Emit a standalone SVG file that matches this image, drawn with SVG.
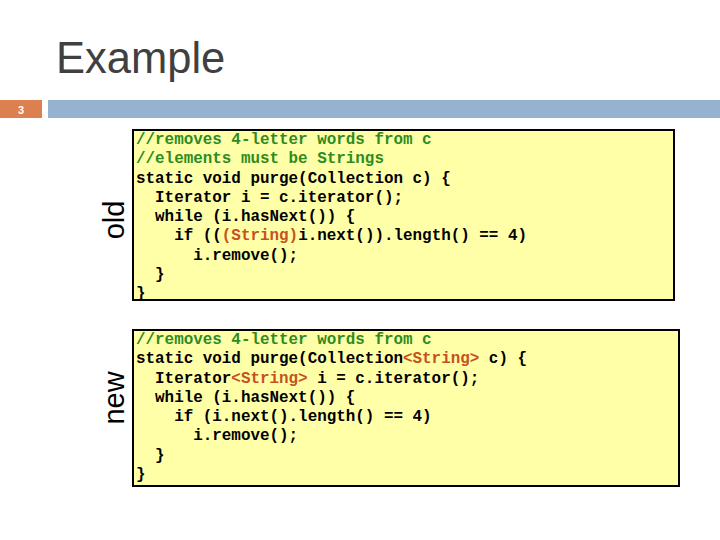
<svg xmlns="http://www.w3.org/2000/svg" width="720" height="540" viewBox="0 0 720 540">
<style>
.code{font-family:"Liberation Mono",monospace;font-weight:bold;font-size:15.9px;fill:#000;white-space:pre}
.cm{fill:#2e8b1f}.ty{fill:#c8501e}
.box{fill:#ffffa8;stroke:#000;stroke-width:2}
.lab{font-family:"Liberation Sans",Arial,sans-serif;font-size:29px;fill:#000}
</style>
<rect width="720" height="540" fill="#fff"/>
<text x="56" y="73" font-family="Liberation Sans,Arial,sans-serif" font-size="43.5" fill="#404040">Example</text>
<rect x="0" y="100" width="42" height="18" fill="#dd8050"/>
<text x="21" y="114" text-anchor="middle" font-family="Liberation Sans,Arial,sans-serif" font-size="11" font-weight="bold" fill="#fff">3</text>
<rect x="48" y="100" width="672" height="18" fill="#95b3d0"/>
<g id="old">
<rect class="box" x="133" y="130" width="541" height="170"/>
<text class="lab" transform="translate(124,220) rotate(-90)" text-anchor="middle">old</text>
<text class="code" x="136" y="144"><tspan class="cm">//removes 4-letter words from c</tspan></text>
<text class="code" x="136" y="163"><tspan class="cm">//elements must be Strings</tspan></text>
<text class="code" x="136" y="183">static void purge(Collection c) {</text>
<text class="code" x="136" y="202">  Iterator i = c.iterator();</text>
<text class="code" x="136" y="221">  while (i.hasNext()) {</text>
<text class="code" x="136" y="240">    if ((<tspan class="ty">(String)</tspan>i.next()).length() == 4)</text>
<text class="code" x="136" y="260">      i.remove();</text>
<text class="code" x="136" y="279">  }</text>
<text class="code" x="136" y="298">}</text>
</g>
<g id="new">
<rect class="box" x="133" y="330" width="546" height="156"/>
<text class="lab" transform="translate(124,398) rotate(-90)" text-anchor="middle">new</text>
<text class="code" x="136" y="344"><tspan class="cm">//removes 4-letter words from c</tspan></text>
<text class="code" x="136" y="363">static void purge(Collection<tspan class="ty">&lt;String&gt;</tspan> c) {</text>
<text class="code" x="136" y="383">  Iterator<tspan class="ty">&lt;String&gt;</tspan> i = c.iterator();</text>
<text class="code" x="136" y="402">  while (i.hasNext()) {</text>
<text class="code" x="136" y="421">    if (i.next().length() == 4)</text>
<text class="code" x="136" y="440">      i.remove();</text>
<text class="code" x="136" y="460">  }</text>
<text class="code" x="136" y="479">}</text>
</g>
<g id="connectors"/>
</svg>
